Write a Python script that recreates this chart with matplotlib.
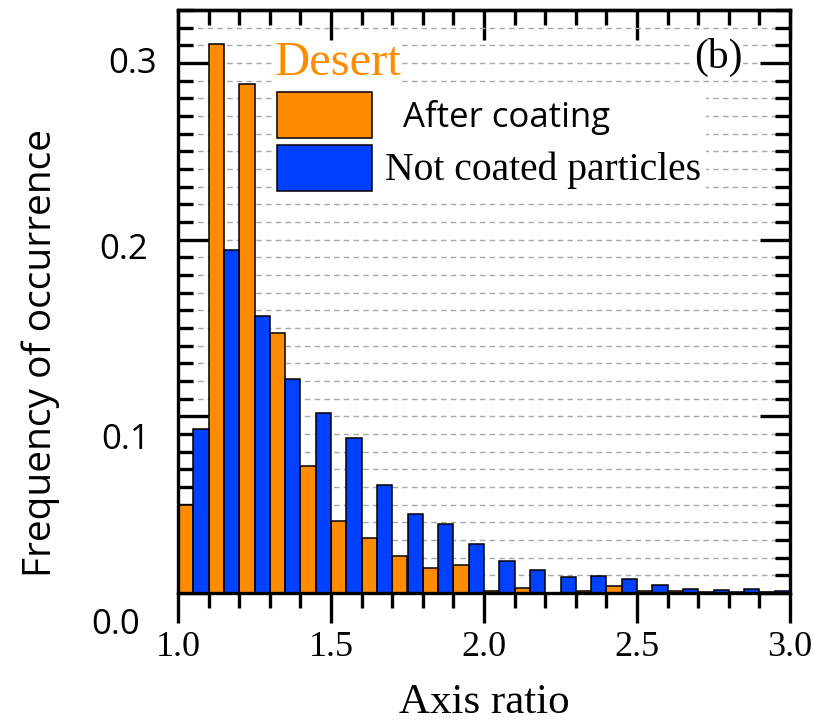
from matplotlib import pyplot as plt
from matplotlib.patches import Patch
from matplotlib.ticker import MultipleLocator
import matplotlib.transforms as mtransforms
import numpy as np

# axis ratio histogram, 0.1 wide bins, two populations side by side
bin_left = [1.0, 1.1, 1.2, 1.3, 1.4, 1.5, 1.6, 1.7, 1.8, 1.9,
            2.0, 2.1, 2.2, 2.3, 2.4, 2.5, 2.6, 2.7, 2.8, 2.9]
after_coating = [0.050, 0.311, 0.288, 0.147, 0.072, 0.041, 0.031, 0.021, 0.014, 0.016,
                 0.001, 0.003, 0.000, 0.001, 0.004, 0.001, 0.001, 0.0005, 0.0005, 0.0005]
not_coated = [0.093, 0.194, 0.157, 0.121, 0.102, 0.088, 0.061, 0.045, 0.039, 0.028,
              0.018, 0.013, 0.009, 0.0096, 0.008, 0.0045, 0.002, 0.0017, 0.0023, 0.001]

y_ticks = [0.0, 0.1, 0.2, 0.3]
y_tick_labels = ["0.0", "0.1", "0.2", "0.3"]
# hand placed label nudges (pixels): right edge shift and vertical shift
y_label_dx = [-38, -28, -30, -21]
y_label_dy = [-32, -24, -10, -1]

x_ticks = [1.0, 1.5, 2.0, 2.5, 3.0]
x_tick_labels = ["1.0", "1.5", "2.0", "2.5", "3.0"]

orange = "#ff8c00"
blue = "#0040ff"
serif = "Liberation Serif"
sans = "Open Sans"

########################################################################################################################
fig = plt.figure(figsize=(8.18, 7.23), dpi=100)
ax = fig.add_axes([178 / 818, 130 / 723, 612 / 818, 583 / 723])

left = np.array(bin_left)
w = 0.05
ax.bar(left, after_coating, width=w, align="edge", color=orange, edgecolor="black", linewidth=1.1, zorder=2)
ax.bar(left + w, not_coated, width=w, align="edge", color=blue, edgecolor="black", linewidth=1.1, zorder=2)

ax.set_xlim(1.0, 3.0)
ax.set_ylim(0.0, 0.33)

# dashed grid on every 0.01
ax.yaxis.set_major_locator(MultipleLocator(0.1))
ax.yaxis.set_minor_locator(MultipleLocator(0.01))
ax.xaxis.set_minor_locator(MultipleLocator(0.1))
ax.set_xticks(x_ticks)
ax.set_xticklabels(x_tick_labels, fontfamily=serif, fontsize=26)
ax.grid(axis="y", which="both", linestyle=(0, (4, 3)), color="#a8a8a8", linewidth=1.0, zorder=0)
ax.set_axisbelow(True)

for sp in ax.spines.values():
    sp.set_linewidth(2.4)

ax.tick_params(axis="x", which="both", direction="out", top=False, width=2.4, pad=6)
ax.tick_params(axis="x", which="major", length=21.6)
ax.tick_params(axis="x", which="minor", length=10.8)
ax.tick_params(axis="y", which="both", direction="in", left=True, right=True, width=2.4, labelleft=False)
ax.tick_params(axis="y", which="major", length=21.6)
ax.tick_params(axis="y", which="minor", length=10.8)

# top ticks point inward
top = ax.secondary_xaxis("top")
top.set_xticks(x_ticks)
top.xaxis.set_minor_locator(MultipleLocator(0.1))
top.tick_params(which="both", direction="in", width=2.4, labeltop=False)
top.tick_params(which="major", length=21.6)
top.tick_params(which="minor", length=10.8)
top.spines["top"].set_linewidth(2.4)

# y tick labels
for val, lab, dx, dy in zip(y_ticks, y_tick_labels, y_label_dx, y_label_dy):
    off = mtransforms.ScaledTranslation(dx / 100, dy / 100, fig.dpi_scale_trans)
    ax.text(0, val, lab, transform=ax.get_yaxis_transform() + off,
            ha="right", va="center", fontfamily=sans, fontsize=25)

# legend
handles = [Patch(facecolor=orange, edgecolor="black", linewidth=1.1),
           Patch(facecolor=blue, edgecolor="black", linewidth=1.1)]
leg = ax.legend(handles, ["  After coating", "Not coated particles"], loc="upper left",
                bbox_to_anchor=(0.155, 0.866), borderaxespad=0, borderpad=0.12,
                handlelength=2.74, handleheight=1.66, handletextpad=0.38, labelspacing=0.2,
                frameon=True, fancybox=False, edgecolor="none", framealpha=1, prop={"size": 25})
leg.get_texts()[0].set(fontfamily=sans, fontsize=25)
leg.get_texts()[1].set(fontfamily=serif, fontsize=28.5)
leg.set_zorder(5)

ax.text(0.1585, 0.888, "Desert", transform=ax.transAxes, color=orange, fontfamily=serif, fontsize=35,
        va="baseline", ha="left", zorder=5,
        bbox=dict(facecolor="white", edgecolor="none", pad=0))
ax.text(0.883, 0.919, "(b)", transform=ax.transAxes, fontfamily=serif, fontsize=30,
        va="center", ha="center", zorder=5,
        bbox=dict(facecolor="white", edgecolor="none", pad=0))

fig.text(41 / 818, 1 - 353 / 723, "Frequency of occurrence", rotation=90, ha="center", va="center",
         fontfamily=sans, fontsize=28)
fig.text(484 / 818, 10 / 723, "Axis ratio", ha="center", va="baseline", fontfamily=serif, fontsize=31)

plt.savefig("out.png", dpi=100)
plt.close()
